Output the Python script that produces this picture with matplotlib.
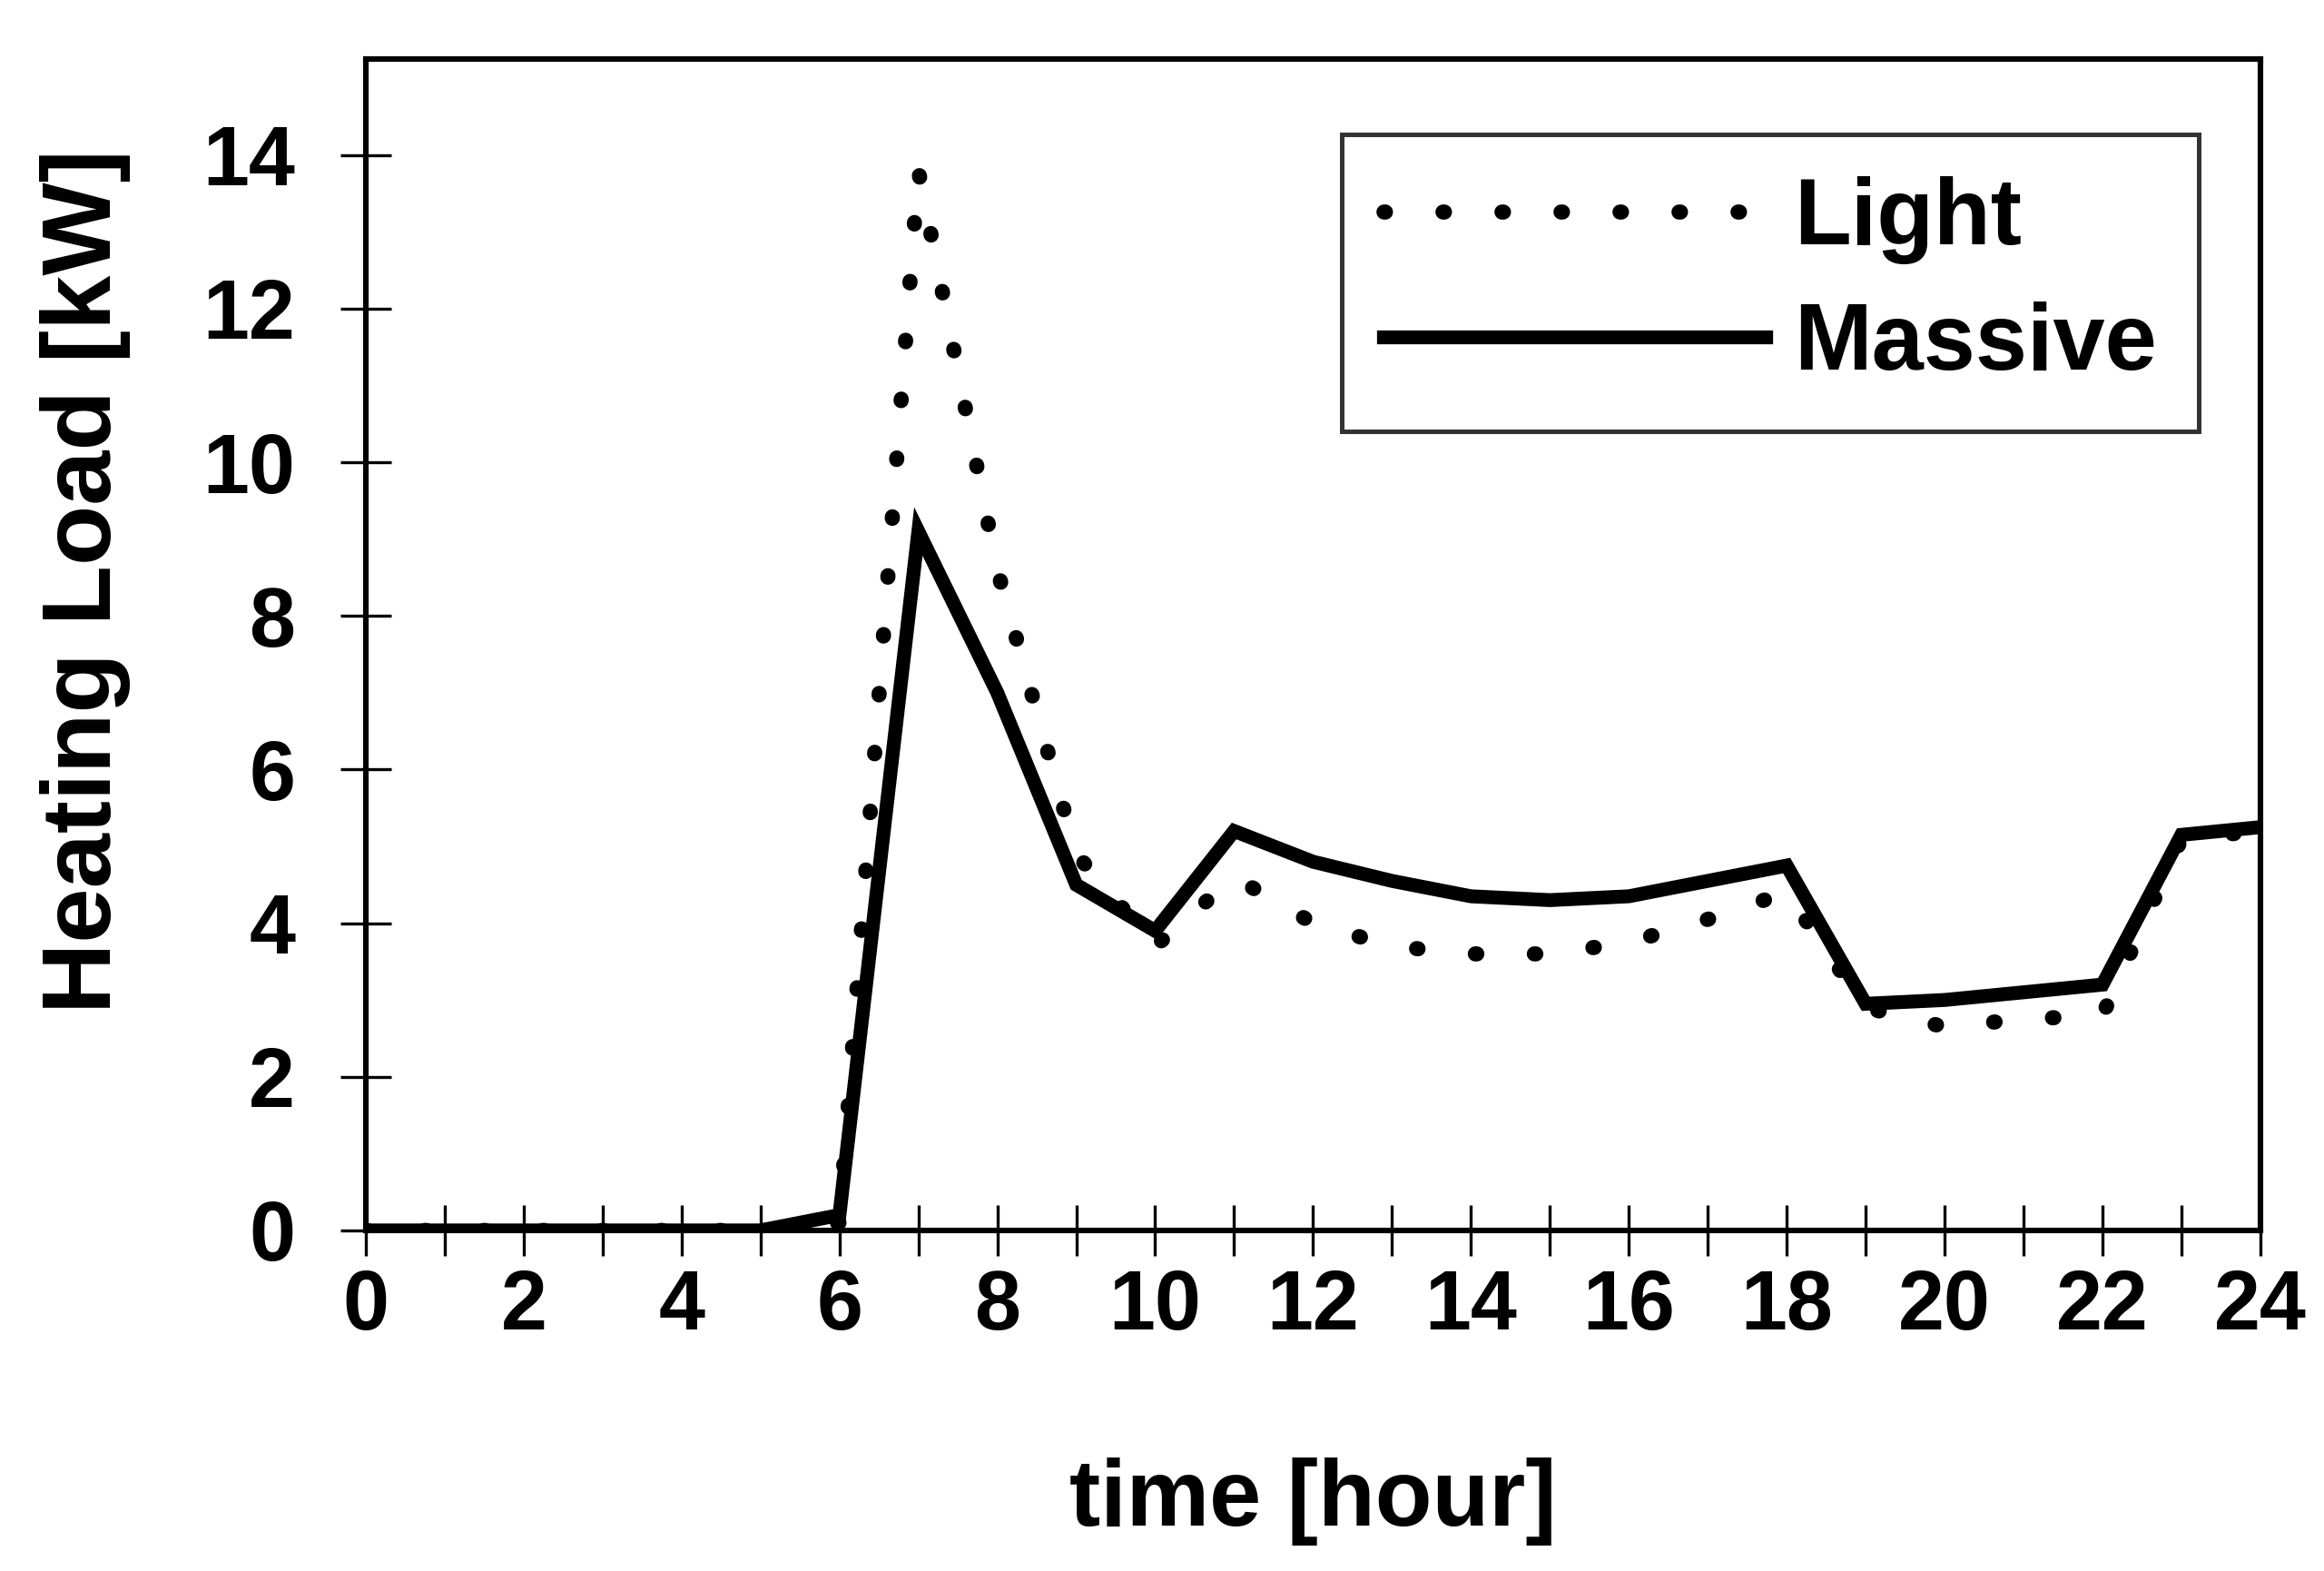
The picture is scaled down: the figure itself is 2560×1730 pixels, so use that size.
import matplotlib
matplotlib.use("Agg")
import matplotlib.pyplot as plt
from matplotlib.ticker import MultipleLocator

plt.rcParams["font.family"] = ["Liberation Sans", "DejaVu Sans"]
plt.rcParams["font.weight"] = "bold"

hours = list(range(25))
light = [0, 0, 0, 0, 0, 0, 0.1, 13.8, 8.6, 4.9, 3.7, 4.6, 4.0, 3.7, 3.6, 3.6,
         3.75, 4.05, 4.4, 2.9, 2.65, 2.75, 2.8, 5.1, 5.2]
massive = [0, 0, 0, 0, 0, 0, 0.2, 9.1, 7.0, 4.5, 3.9, 5.2, 4.8, 4.55, 4.35, 4.3,
           4.35, 4.55, 4.75, 2.95, 3.0, 3.1, 3.2, 5.15, 5.25]
xticks = list(range(0, 25, 2))
yticks = list(range(0, 15, 2))

fig = plt.figure(figsize=(12.8, 8.65), dpi=200)
ax = fig.add_axes([0.1574, 0.2168, 0.8152, 0.7456])

ax.plot(hours, light, color="black", lw=6, linestyle=(0, (0.1, 3.8)),
        dash_capstyle="round", label="Light")
ax.plot(hours, massive, color="black", lw=5.5, solid_joinstyle="miter",
        label="Massive")

ax.set_xlim(0, 24)
ax.set_ylim(0, 15.25)
ax.set_xticks(xticks)
ax.set_yticks(yticks)
ax.xaxis.set_minor_locator(MultipleLocator(1))

for s in ax.spines.values():
    s.set_linewidth(2.2)

ax.tick_params(axis="x", which="both", direction="inout", length=20, width=1.2,
               labelsize=33, pad=5)
ax.tick_params(axis="y", which="both", direction="inout", length=20, width=1.2,
               labelsize=33, pad=18)

ax.set_xlabel("time [hour]", fontsize=37, fontweight="bold", labelpad=44)
ax.set_ylabel("Heating Load [kW]", fontsize=39, fontweight="bold")
ax.yaxis.set_label_coords(-0.124, 0.554)

leg = ax.legend(loc="upper left", bbox_to_anchor=(0.515, 0.936), fontsize=37,
                frameon=True, fancybox=False, edgecolor="black",
                handlelength=4.1, handletextpad=0.3, labelspacing=0.4,
                borderpad=0.45, borderaxespad=0)
leg.get_frame().set_linewidth(1.8)

fig.savefig("out.png", dpi=200)
